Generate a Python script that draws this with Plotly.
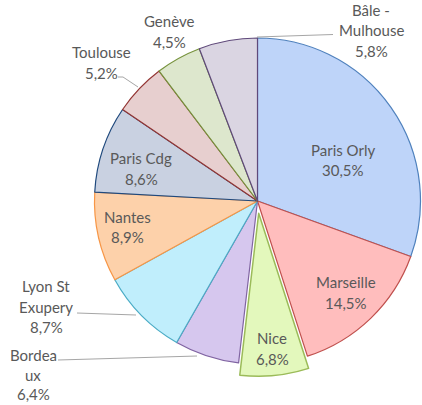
import plotly.graph_objects as go
import math

# ---- data ----
airports = ["Paris Orly", "Marseille", "Nice", "Bordeaux", "Lyon St Exupery",
            "Nantes", "Paris Cdg", "Toulouse", "Genève", "Bâle - Mulhouse"]
shares = [30.5, 14.5, 6.8, 6.4, 8.7, 8.9, 8.6, 5.2, 4.5, 5.8]
# label text as it wraps in the chart
label_lines = [["Paris Orly"], ["Marseille"], ["Nice"], ["Bordea", "ux"],
               ["Lyon St", "Exupery"], ["Nantes"], ["Paris Cdg"], ["Toulouse"],
               ["Genève"], ["Bâle -", "Mulhouse"]]

# ---- style ----
fills = ["#bed4f9", "#ffbdbd", "#e3f8bc", "#d6c7ee", "#c0eefc",
         "#fdd1aa", "#c9d1e1", "#e7cfcf", "#dde7cd", "#dad5e2"]
edges = ["#4f81bd", "#c0504d", "#9bbb59", "#8064a2", "#4bacc6",
         "#f79646", "#1f497d", "#943634", "#76923c", "#5f497a"]
pulled = "Nice"

W, H = 422, 405
CX, CY, R = 257.5, 201, 163  # pie centre / radius in pixels
PULL_PX = 12.3

# label centres (pixels, first line), line steps and leader lines
label_pos = {
    "Paris Orly": (343, 150), "Marseille": (346, 282), "Nice": (272, 338),
    "Bordeaux": (33, 355), "Lyon St Exupery": (46, 286), "Nantes": (127, 217),
    "Paris Cdg": (141, 158), "Toulouse": (101, 52), "Genève": (169, 21),
    "Bâle - Mulhouse": (371, 10),
}
line_step = {"Bordeaux": 19.5}
leaders = [
    [(333, 34.5), (257, 37)],
    [(118, 77), (123, 77), (138, 87)],
    [(77, 313), (136, 315)],
    [(58, 360), (197, 356)],
]
LINE_STEP = 20.5


def px(x):
    return x / W


def py(y):
    return (H - y) / H


total = sum(shares)
idx = airports.index(pulled)
mid = (sum(shares[:idx]) + shares[idx] / 2) / total * 2 * math.pi
dx = PULL_PX * math.sin(mid)
dy = PULL_PX * math.cos(mid)  # upward in paper terms (negative => down)

base_domain = dict(x=[px(CX - R), px(CX + R)], y=[py(CY + R), py(CY - R)])
pulled_domain = dict(x=[px(CX - R + dx), min(1.0, px(CX + R + dx))],
                     y=[py(CY + R - dy), py(CY - R - dy)])

fig = go.Figure()
fill1 = [("rgba(0,0,0,0)" if a == pulled else c) for a, c in zip(airports, fills)]
edge1 = [("rgba(0,0,0,0)" if a == pulled else c) for a, c in zip(airports, edges)]
fig.add_trace(go.Pie(
    labels=airports, values=shares, sort=False, direction="clockwise", rotation=0,
    marker=dict(colors=fill1, line=dict(color=edge1, width=1.2)),
    textinfo="none", hoverinfo="label+value", domain=base_domain, showlegend=False,
))
fill2 = [(c if a == pulled else "rgba(0,0,0,0)") for a, c in zip(airports, fills)]
edge2 = [(c if a == pulled else "rgba(0,0,0,0)") for a, c in zip(airports, edges)]
fig.add_trace(go.Pie(
    labels=airports, values=shares, sort=False, direction="clockwise", rotation=0,
    marker=dict(colors=fill2, line=dict(color=edge2, width=1.5)),
    textinfo="none", hoverinfo="skip", domain=pulled_domain, showlegend=False,
))

annotations = []
for name, val, lines in zip(airports, shares, label_lines):
    x0, y0 = label_pos[name]
    step = line_step.get(name, LINE_STEP)
    all_lines = lines + [f"{val:.1f}".replace(".", ",") + "%"]
    for i, t in enumerate(all_lines):
        annotations.append(dict(
            x=px(x0), y=py(y0 + i * step), xref="paper", yref="paper",
            text=t, showarrow=False, xanchor="center", yanchor="middle",
            font=dict(family="Lato", size=15, color="#595959"),
        ))

shapes = []
for pts in leaders:
    for (xa, ya), (xb, yb) in zip(pts[:-1], pts[1:]):
        shapes.append(dict(type="line", xref="paper", yref="paper",
                           x0=px(xa), y0=py(ya), x1=px(xb), y1=py(yb),
                           line=dict(color="#a6a6a6", width=1)))

fig.update_layout(
    width=W, height=H, margin=dict(l=0, r=0, t=0, b=0),
    paper_bgcolor="white", plot_bgcolor="white",
    annotations=annotations, shapes=shapes,
)
fig.write_html(
    "out.html",
    config={"displayModeBar": False},
    post_script="document.body.style.margin='0';document.body.style.overflow='hidden';",
)
